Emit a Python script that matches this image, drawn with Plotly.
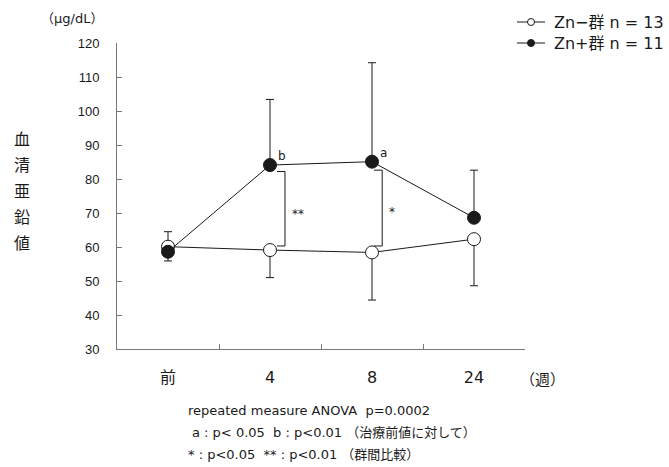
import plotly.graph_objects as go

# Serum zinc (µg/dL) by week, mean with one-sided SD bars
weeks = ["前", "4", "8", "24"]
zn_minus = [60.1, 59.1, 58.4, 62.3]          # Zn−群 n = 13
zn_minus_err_up = [4.4, 0, 0, 0]
zn_minus_err_down = [0, 8.1, 14.0, 13.7]
zn_plus = [58.6, 84.1, 85.1, 68.6]           # Zn+群 n = 11
zn_plus_err_up = [0, 19.3, 29.1, 14.0]
zn_plus_err_down = [2.7, 0, 0, 0]
group_names = ["Zn−群 n = 13", "Zn+群 n = 11"]

# Between-group comparison brackets:
# (category index, bracket offset, top, bottom, label, label offset, label y)
brackets = [(1, 0.147, 82.2, 60.3, "**", 0.27, 69.7),
            (2, 0.10, 82.6, 60.3, "*", 0.20, 70.3)]
# Within-group markers vs. baseline
sig_letters = [(1, "b"), (2, "a")]

FONT = "DejaVu Sans, Noto Sans CJK JP, sans-serif"
TICKFONT = "Liberation Sans, Arial, Noto Sans CJK JP, sans-serif"
INK = "#1a1a1a"
AXIS = "#777777"

W, H = 669, 467
# plot area in pixels: x 117..525, y 43..349
PX_L, PX_W, PX_B, PX_H = 117, 408, 349, 306


def px(x, y):
    """Pixel position in the page to paper coordinates."""
    return (x - PX_L) / PX_W, (PX_B - y) / PX_H


fig = go.Figure()

fig.add_trace(go.Scatter(
    x=weeks, y=zn_minus, mode="lines+markers", name=group_names[0], showlegend=False,
    line=dict(color=INK, width=1),
    marker=dict(symbol="circle", size=13, color="white", line=dict(color=INK, width=1)),
    error_y=dict(type="data", symmetric=False, array=zn_minus_err_up,
                 arrayminus=zn_minus_err_down, color=INK, thickness=1, width=4),
))
fig.add_trace(go.Scatter(
    x=weeks, y=zn_plus, mode="lines+markers", name=group_names[1], showlegend=False,
    line=dict(color=INK, width=1),
    marker=dict(symbol="circle", size=13, color=INK, line=dict(color=INK, width=1)),
    error_y=dict(type="data", symmetric=False, array=zn_plus_err_up,
                 arrayminus=zn_plus_err_down, color=INK, thickness=1, width=4),
))

shapes = []
annotations = []
for idx, off, top, bot, lab, loff, ly in brackets:
    xb = idx + off
    xs = xb - 0.08
    shapes.append(dict(type="line", xref="x", yref="y", x0=xb, x1=xb, y0=top, y1=bot,
                       line=dict(color=INK, width=1)))
    shapes.append(dict(type="line", xref="x", yref="y", x0=xs, x1=xb, y0=top, y1=top,
                       line=dict(color=INK, width=1)))
    shapes.append(dict(type="line", xref="x", yref="y", x0=xs, x1=xb, y0=bot, y1=bot,
                       line=dict(color=INK, width=1)))
    annotations.append(dict(x=idx + loff, y=ly, xref="x", yref="y", text=lab,
                            showarrow=False, xanchor="center", yanchor="middle",
                            font=dict(size=12, color=INK, family=FONT)))

for idx, lab in sig_letters:
    annotations.append(dict(x=idx + 0.06, y=zn_plus[idx] + 2.6, xref="x", yref="y",
                            text=lab, showarrow=False, xanchor="left", yanchor="middle",
                            font=dict(size=12, color=INK, family=FONT)))


def page_text(text, x, y, size, xanchor="center"):
    ax, ay = px(x, y)
    annotations.append(dict(x=ax, y=ay, xref="paper", yref="paper", text=text,
                            showarrow=False, xanchor=xanchor, yanchor="middle",
                            font=dict(size=size, color=INK, family=FONT)))


# Legend drawn in the top-right corner: line, small circle, label
for i, (name, fill) in enumerate(zip(group_names, ["white", INK])):
    ly = 22 + i * 21
    x0, y0 = px(517, ly)
    x1, _ = px(545, ly)
    shapes.append(dict(type="line", xref="paper", yref="paper", x0=x0, x1=x1, y0=y0, y1=y0,
                       line=dict(color=INK, width=1)))
    cx0, cy0 = px(531 - 3.5, ly + 3.5)
    cx1, cy1 = px(531 + 3.5, ly - 3.5)
    shapes.append(dict(type="circle", xref="paper", yref="paper",
                       x0=cx0, x1=cx1, y0=cy0, y1=cy1,
                       fillcolor=fill, line=dict(color=INK, width=1)))
    page_text(name, 552, ly, 16, "left")

# Unit and vertical axis title
page_text("（μg/dL）", 72, 18, 13)
for i, ch in enumerate(["血", "清", "亜", "鉛", "値"]):
    page_text(ch, 22, 139 + i * 26.2, 16)

page_text("（週）", 542, 380, 15)

page_text("repeated measure ANOVA  p=0.0002", 186, 410, 13, "left")
page_text("a : p< 0.05  b : p<0.01 （治療前値に対して）", 190, 432, 13, "left")
page_text("* : p<0.05  ** : p<0.01 （群間比較）", 186, 454, 13, "left")

fig.update_layout(
    width=W, height=H,
    margin=dict(l=PX_L, r=W - PX_L - PX_W, t=PX_B - PX_H, b=H - PX_B),
    paper_bgcolor="white", plot_bgcolor="white",
    font=dict(family=FONT, color=INK),
    showlegend=False,
    shapes=shapes, annotations=annotations,
    xaxis=dict(type="category", categoryorder="array", categoryarray=weeks,
               range=[-0.5, 3.5], showline=True, linecolor=AXIS, linewidth=1,
               ticks="inside", ticklen=5, tickcolor=AXIS, tickson="boundaries",
               showgrid=False, zeroline=False, ticklabelstandoff=14,
               tickfont=dict(size=16, color=INK, family=FONT)),
    yaxis=dict(range=[30, 120], tickvals=list(range(30, 121, 10)),
               showline=True, linecolor=AXIS, linewidth=1,
               ticks="inside", ticklen=5, tickcolor=AXIS,
               showgrid=False, zeroline=False, ticklabelstandoff=14,
               tickfont=dict(size=13, color=INK, family=TICKFONT)),
)

fig.write_html("out.html")
